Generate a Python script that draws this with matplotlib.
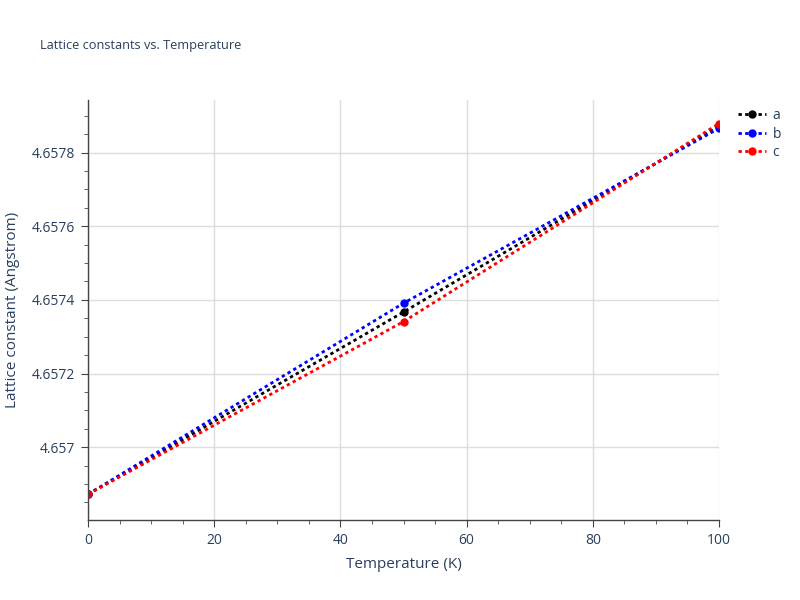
import matplotlib
matplotlib.use("Agg")
from matplotlib import pyplot as plt
from matplotlib.ticker import MultipleLocator, FuncFormatter

temperature = [0, 50, 100]
lat_a = [4.656872, 4.657367, 4.657872]
lat_b = [4.656872, 4.657391, 4.657866]
lat_c = [4.656872, 4.657341, 4.657879]
series_names = ["a", "b", "c"]
series_colors = ["black", "blue", "red"]

font_col = "#2a3f5f"
plt.rcParams['font.family'] = ['Open Sans', 'DejaVu Sans']

fig = plt.figure(figsize=(8, 6), dpi=100)
ax = fig.add_axes([0.11, 0.1333, 0.78875, 0.70])

for vals, name, col in zip([lat_a, lat_b, lat_c], series_names, series_colors):
    ax.plot(temperature, vals, linestyle=(0, (1.2, 1.2)), linewidth=2, color=col,
            marker="o", markersize=5, label=name, clip_on=True)

ax.set_xlim(0, 100)
ax.set_ylim(4.656802, 4.657943)
ax.xaxis.set_major_locator(MultipleLocator(20))
ax.xaxis.set_minor_locator(MultipleLocator(5))
ax.yaxis.set_major_locator(MultipleLocator(0.0002))
ax.yaxis.set_minor_locator(MultipleLocator(0.00005))

def fmt_y(v, pos):
    s = "%.4f" % v
    return s.rstrip("0")
ax.yaxis.set_major_formatter(FuncFormatter(fmt_y))

ax.grid(True, which="major", color="#dddddd", linewidth=1)
ax.set_axisbelow(True)
for s in ["top", "right"]:
    ax.spines[s].set_visible(False)
for s in ["left", "bottom"]:
    ax.spines[s].set_color("#444444")
    ax.spines[s].set_linewidth(1)

ax.tick_params(which="major", direction="out", length=5, color="#444444",
               labelsize=10, labelcolor=font_col, pad=4)
ax.tick_params(which="minor", direction="out", length=3, color="#444444")

ax.set_xlabel("Temperature (K)", fontsize=11, color=font_col, labelpad=7)
ax.set_ylabel("Lattice constant (Angstrom)", fontsize=11, color=font_col, labelpad=9)

fig.text(0.05, 0.925, "Lattice constants vs. Temperature", fontsize=9.2,
         color=font_col, va="center")

leg = ax.legend(loc="upper left", bbox_to_anchor=(1.01, 1.01), frameon=False,
                fontsize=10, handlelength=2.0, handletextpad=0.5, labelspacing=0.25)
for t in leg.get_texts():
    t.set_color(font_col)

plt.savefig("out.png", dpi=100)
